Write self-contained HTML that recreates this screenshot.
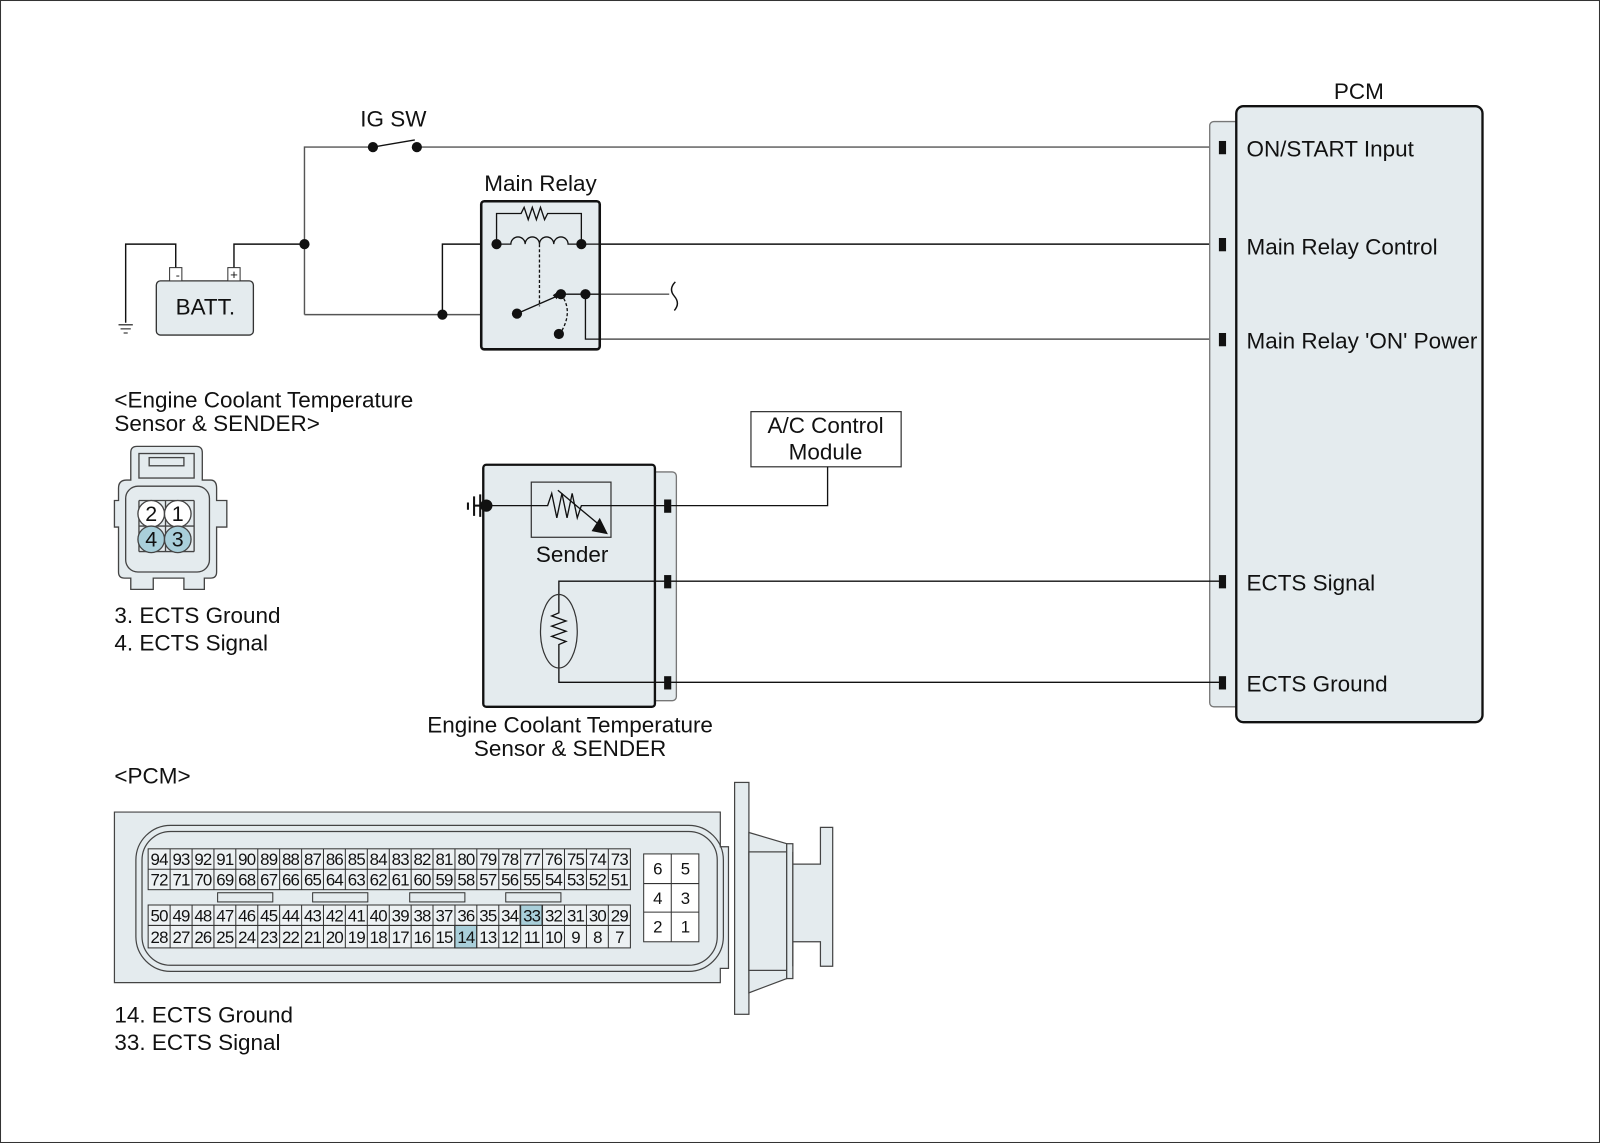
<!DOCTYPE html>
<html><head><meta charset="utf-8"><style>
html,body{margin:0;padding:0;background:#fff}
svg{display:block}
text{font-family:"Liberation Sans",Arial,sans-serif;fill:#111}
</style></head><body>
<svg width="1600" height="1143" viewBox="0 0 1566 1119" preserveAspectRatio="none" xmlns="http://www.w3.org/2000/svg">
<rect x="0.5" y="0.5" width="1565" height="1118" fill="#fff" stroke="#333" stroke-width="1"/>
<g fill="none" stroke="#111" stroke-width="1.4">
<path d="M298 308 V144 H365 M408 144 H1197" stroke="#555"/>
<path d="M365 144 L406 137"/>
<path d="M229 262 V239 H298"/>
<path d="M172 262 V239 H123 V316"/>
<path d="M116 318 H130 M118 322 H128 M121 326 H125" stroke-width="1"/>
<path d="M298 308 H506" stroke="#555"/>
<path d="M433 308 V239 H486"/>
<path d="M569 239 H1197"/>
<path d="M573 288 H655" stroke="#555"/>
<path d="M661 276 Q654 283 660 290 Q666 297 660 304"/>
<path d="M587 332 H1197" stroke="#555"/>
</g>
<rect x="153" y="275" width="95" height="53" rx="4" fill="#e4ebee" stroke="#333" stroke-width="1.3"/>
<rect x="166" y="262" width="12" height="13" fill="#fff" stroke="#333"/>
<rect x="223" y="262" width="12" height="13" fill="#fff" stroke="#333"/>
<text x="174" y="273" font-size="12" text-anchor="middle">-</text>
<text x="229" y="273" font-size="13" text-anchor="middle">+</text>
<text x="201" y="308" font-size="22" text-anchor="middle">BATT.</text>
<text x="385" y="124" font-size="22" text-anchor="middle">IG SW</text>
<circle cx="365" cy="144" r="5" fill="#111"/><circle cx="408" cy="144" r="5" fill="#111"/>
<circle cx="298" cy="239" r="5" fill="#111"/><circle cx="433" cy="308" r="5" fill="#111"/>
<text x="529" y="187" font-size="22" text-anchor="middle">Main Relay</text>
<rect x="471" y="197" width="116" height="145" rx="3" fill="#e4ebee" stroke="#111" stroke-width="2.5"/>
<g fill="none" stroke="#111" stroke-width="1.3">
<path d="M486 239 V209 H510 l3 -6 l4 12 l4 -12 l4 12 l4 -12 l4 12 l3 -6 H569 V239"/>
<path d="M486 239 H500 a7 7 0 0 1 14 0 a7 7 0 0 1 14 0 a7 7 0 0 1 14 0 a7 7 0 0 1 14 0 H569"/>
<path d="M528 239 V300" stroke-dasharray="3,2"/>
<path d="M549 288 Q562 305 548 327" stroke-dasharray="3,2"/>
<path d="M506 307 L545 290"/>
<path d="M549 288 H573"/>
<path d="M587 239 H569 M587 288 H573 M573 288 V332 H587"/>
</g>
<path d="M548 284 L541 289 L545 293 Z" fill="#111"/>
<g fill="#111"><circle cx="486" cy="239" r="5"/><circle cx="569" cy="239" r="5"/><circle cx="506" cy="307" r="5"/><circle cx="549" cy="288" r="5"/><circle cx="573" cy="288" r="5"/><circle cx="547" cy="327" r="5"/></g>
<text x="1330" y="97" font-size="22" text-anchor="middle">PCM</text>
<rect x="1184" y="119" width="40" height="573" rx="4" fill="#e4ebee" stroke="#777" stroke-width="1.3"/>
<rect x="1210" y="104" width="241" height="603" rx="7" fill="#e4ebee" stroke="#111" stroke-width="2.3"/>
<g fill="#111"><rect x="1193" y="138" width="7" height="13"/><rect x="1193" y="233" width="7" height="13"/><rect x="1193" y="326" width="7" height="13"/><rect x="1193" y="563" width="7" height="13"/><rect x="1193" y="662" width="7" height="13"/></g>
<g font-size="22"><text x="1220" y="153">ON/START Input</text><text x="1220" y="249">Main Relay Control</text><text x="1220" y="341">Main Relay 'ON' Power</text><text x="1220" y="578">ECTS Signal</text><text x="1220" y="677">ECTS Ground</text></g>
<text x="112" y="399" font-size="22">&lt;Engine Coolant Temperature</text>
<text x="112" y="422" font-size="22">Sensor &amp; SENDER&gt;</text>
<g stroke="#444" stroke-width="1.3" fill="#e4ebee">
<path d="M128 443 Q128 437 134 437 H192 Q198 437 198 443 V470 H206 Q212 470 212 478 V490 H222 V516 H212 V560 Q212 566 206 566 H200 V577 H180 V566 H150 V577 H128 V566 H122 Q116 566 116 560 V516 H112 V490 H116 V478 Q116 470 124 470 H128 Z"/>
<rect x="136" y="444" width="54" height="24" fill="#e4ebee"/>
<rect x="146" y="448" width="34" height="8"/>
<rect x="123" y="476" width="82" height="84" rx="12"/>
<path d="M136 490 H190 M136 540 H190 M136 515 H190 M162 490 V540 M136 490 V540 M190 490 V540" fill="none"/>
<circle cx="148" cy="503" r="13" fill="#fff"/><circle cx="174" cy="503" r="13" fill="#fff"/>
<circle cx="148" cy="528" r="13" fill="#a9cfda"/><circle cx="174" cy="528" r="13" fill="#a9cfda"/>
</g>
<g font-size="21" text-anchor="middle"><text x="148" y="510">2</text><text x="174" y="510">1</text><text x="148" y="535">4</text><text x="174" y="535">3</text></g>
<text x="112" y="610" font-size="22">3. ECTS Ground</text>
<text x="112" y="637" font-size="22">4. ECTS Signal</text>
<rect x="735" y="403" width="147" height="54" fill="#fff" stroke="#333" stroke-width="1.2"/>
<text x="808" y="424" font-size="22" text-anchor="middle">A/C Control</text>
<text x="808" y="450" font-size="22" text-anchor="middle">Module</text>
<rect x="628" y="462" width="34" height="224" rx="4" fill="#e4ebee" stroke="#777" stroke-width="1.3"/>
<rect x="473" y="455" width="168" height="237" rx="3" fill="#e4ebee" stroke="#111" stroke-width="2.3"/>
<rect x="520" y="472" width="78" height="54" fill="#e4ebee" stroke="#333" stroke-width="1.2"/>
<g fill="none" stroke="#111" stroke-width="1.3">
<path d="M476 495 H536 l4 -12 l5 24 l5 -24 l5 24 l5 -24 l5 24 l4 -12 H657"/>
<path d="M546 480 L588 515"/>
<path d="M810 457 V495 H657"/>
<path d="M657 569 H547 V582 M547 654 V668 H657 M657 569 H1197 M657 668 H1197"/>
<path d="M547 582 V600 l-7 3 l14 5 l-14 5 l14 5 l-14 5 l14 5 l-7 3 V654"/>
<path d="M464 486 V505 M458 492 V499" stroke-width="2"/>
</g>
<path d="M595 523 L587 507 L579 520 Z" fill="#111"/>
<path d="M464 495 H471" stroke="#111" stroke-width="2"/>
<ellipse cx="547" cy="618" rx="18" ry="36" fill="none" stroke="#333" stroke-width="1.2"/>
<circle cx="476" cy="495" r="6" fill="#111"/>
<path d="M470 484 V506" stroke="#111" stroke-width="2"/>
<g fill="#111"><rect x="650" y="489" width="7" height="13"/><rect x="650" y="563" width="7" height="13"/><rect x="650" y="662" width="7" height="13"/></g>
<text x="560" y="550" font-size="22" text-anchor="middle">Sender</text>
<text x="558" y="717" font-size="22" text-anchor="middle">Engine Coolant Temperature</text>
<text x="558" y="740" font-size="22" text-anchor="middle">Sensor &amp; SENDER</text>
<text x="112" y="767" font-size="22">&lt;PCM&gt;</text>
<g stroke="#444" stroke-width="1.2" fill="#e4ebee">
<path d="M112 795 H705 V829 H713 V948 H705 V962 H112 Z"/>
<rect x="719" y="766" width="14" height="227"/>
<path d="M733 815 L770 826 V958 L733 972 Z"/>
<rect x="733" y="834" width="37" height="116"/>
<rect x="770" y="826" width="6" height="132"/>
<path d="M776 834 V846 H803 V834 V810 H815 V946 H803 V934 V922 H776 V946 Z"/>
<rect x="133" y="808" width="575" height="143" rx="34" fill="none"/>
<rect x="139" y="814" width="563" height="131" rx="28" fill="none"/>
</g>
<g stroke="#333" stroke-width="1" fill="#e4ebee">
<rect x="145" y="831" width="472" height="40" fill="#edf1f3"/>
<rect x="145" y="886" width="472" height="42" fill="#edf1f3"/>
<rect x="509" y="886" width="21.5" height="20" fill="#a9cfda"/>
<rect x="445" y="906" width="21.5" height="22" fill="#a9cfda"/>
<path d="M145 851 H617 M145 906 H617"/>
<path d="M166.5 831 V871 M188 831 V871 M209.4 831 V871 M230.8 831 V871 M252.3 831 V871 M273.7 831 V871 M295.2 831 V871 M316.6 831 V871 M338 831 V871 M359.5 831 V871 M381 831 V871 M402.4 831 V871 M423.8 831 V871 M445.3 831 V871 M466.7 831 V871 M488.2 831 V871 M509.6 831 V871 M531 831 V871 M552.5 831 V871 M574 831 V871 M595.4 831 V871"/>
<path d="M166.5 886 V928 M188 886 V928 M209.4 886 V928 M230.8 886 V928 M252.3 886 V928 M273.7 886 V928 M295.2 886 V928 M316.6 886 V928 M338 886 V928 M359.5 886 V928 M381 886 V928 M402.4 886 V928 M423.8 886 V928 M445.3 886 V928 M466.7 886 V928 M488.2 886 V928 M509.6 886 V928 M531 886 V928 M552.5 886 V928 M574 886 V928 M595.4 886 V928"/>
<rect x="213" y="874" width="54" height="9"/><rect x="306" y="874" width="54" height="9"/><rect x="401" y="874" width="54" height="9"/><rect x="495" y="874" width="54" height="9"/>
<rect x="630" y="836" width="54" height="86" fill="#fff"/>
<path d="M657 836 V922 M630 865 H684 M630 893 H684"/>
</g>
<g font-size="16.5" text-anchor="middle" letter-spacing="-0.8">
<text x="155.7" y="847">94</text><text x="177.2" y="847">93</text><text x="198.6" y="847">92</text><text x="220.1" y="847">91</text><text x="241.5" y="847">90</text><text x="263" y="847">89</text><text x="284.4" y="847">88</text><text x="305.9" y="847">87</text><text x="327.3" y="847">86</text><text x="348.8" y="847">85</text><text x="370.2" y="847">84</text><text x="391.7" y="847">83</text><text x="413.1" y="847">82</text><text x="434.6" y="847">81</text><text x="456" y="847">80</text><text x="477.5" y="847">79</text><text x="498.9" y="847">78</text><text x="520.4" y="847">77</text><text x="541.8" y="847">76</text><text x="563.3" y="847">75</text><text x="584.7" y="847">74</text><text x="606.2" y="847">73</text>
<text x="155.7" y="867">72</text><text x="177.2" y="867">71</text><text x="198.6" y="867">70</text><text x="220.1" y="867">69</text><text x="241.5" y="867">68</text><text x="263" y="867">67</text><text x="284.4" y="867">66</text><text x="305.9" y="867">65</text><text x="327.3" y="867">64</text><text x="348.8" y="867">63</text><text x="370.2" y="867">62</text><text x="391.7" y="867">61</text><text x="413.1" y="867">60</text><text x="434.6" y="867">59</text><text x="456" y="867">58</text><text x="477.5" y="867">57</text><text x="498.9" y="867">56</text><text x="520.4" y="867">55</text><text x="541.8" y="867">54</text><text x="563.3" y="867">53</text><text x="584.7" y="867">52</text><text x="606.2" y="867">51</text>
<text x="155.7" y="902">50</text><text x="177.2" y="902">49</text><text x="198.6" y="902">48</text><text x="220.1" y="902">47</text><text x="241.5" y="902">46</text><text x="263" y="902">45</text><text x="284.4" y="902">44</text><text x="305.9" y="902">43</text><text x="327.3" y="902">42</text><text x="348.8" y="902">41</text><text x="370.2" y="902">40</text><text x="391.7" y="902">39</text><text x="413.1" y="902">38</text><text x="434.6" y="902">37</text><text x="456" y="902">36</text><text x="477.5" y="902">35</text><text x="498.9" y="902">34</text><text x="520.4" y="902">33</text><text x="541.8" y="902">32</text><text x="563.3" y="902">31</text><text x="584.7" y="902">30</text><text x="606.2" y="902">29</text>
<text x="155.7" y="923">28</text><text x="177.2" y="923">27</text><text x="198.6" y="923">26</text><text x="220.1" y="923">25</text><text x="241.5" y="923">24</text><text x="263" y="923">23</text><text x="284.4" y="923">22</text><text x="305.9" y="923">21</text><text x="327.3" y="923">20</text><text x="348.8" y="923">19</text><text x="370.2" y="923">18</text><text x="391.7" y="923">17</text><text x="413.1" y="923">16</text><text x="434.6" y="923">15</text><text x="456" y="923">14</text><text x="477.5" y="923">13</text><text x="498.9" y="923">12</text><text x="520.4" y="923">11</text><text x="541.8" y="923">10</text><text x="563.3" y="923">9</text><text x="584.7" y="923">8</text><text x="606.2" y="923">7</text>
<text x="643.5" y="856">6</text><text x="670.5" y="856">5</text><text x="643.5" y="885">4</text><text x="670.5" y="885">3</text><text x="643.5" y="913">2</text><text x="670.5" y="913">1</text>
</g>
<text x="112" y="1001" font-size="22">14. ECTS Ground</text>
<text x="112" y="1028" font-size="22">33. ECTS Signal</text>
</svg>
</body></html>
